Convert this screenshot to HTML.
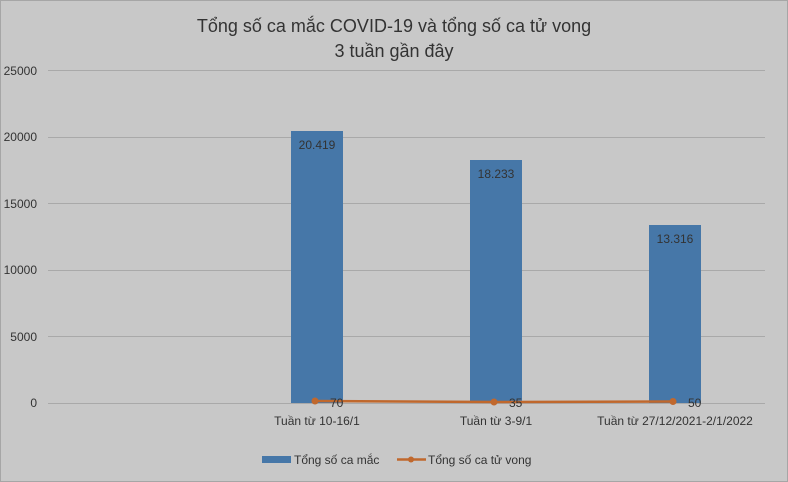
<!DOCTYPE html>
<html><head><meta charset="utf-8"><style>
body{margin:0;background:#c8c8c8}
svg{display:block;font-family:"Liberation Sans","DejaVu Sans",sans-serif}
</style></head><body>
<svg width="788" height="482" viewBox="0 0 788 482">
<rect x="0.5" y="0.5" width="787" height="481" fill="#c8c8c8" stroke="#a6a6a6"/>
<text x="394" y="32" font-size="18" text-anchor="middle" fill="#333">Tổng số ca mắc COVID-19 và tổng số ca tử vong</text>
<text x="394" y="57" font-size="18" text-anchor="middle" fill="#333">3 tuần gần đây</text>
<g stroke="#a9a9a9" stroke-width="1">
<line x1="48" x2="765" y1="70.5" y2="70.5"/><line x1="48" x2="765" y1="137.5" y2="137.5"/>
<line x1="48" x2="765" y1="203.5" y2="203.5"/><line x1="48" x2="765" y1="270.5" y2="270.5"/>
<line x1="48" x2="765" y1="336.5" y2="336.5"/><line x1="48" x2="765" y1="403.5" y2="403.5"/>
</g>
<g font-size="12" fill="#333" text-anchor="end">
<text x="37" y="75">25000</text><text x="37" y="141">20000</text><text x="37" y="208">15000</text>
<text x="37" y="274">10000</text><text x="37" y="341">5000</text><text x="37" y="407">0</text>
</g>
<g fill="#4677a8">
<rect x="291" y="131" width="52" height="272"/>
<rect x="470" y="160" width="52" height="243"/>
<rect x="649" y="225" width="52" height="178"/>
</g>
<g font-size="12" fill="#333" text-anchor="middle">
<text x="317" y="149">20.419</text><text x="496" y="178">18.233</text><text x="675" y="243">13.316</text>
</g>
<polyline points="315,401 494,402 673,401.5" fill="none" stroke="#c0682d" stroke-width="2.5"/>
<g fill="#c0682d"><circle cx="315" cy="401" r="3.5"/><circle cx="494" cy="402" r="3.5"/><circle cx="673" cy="401.5" r="3.5"/></g>
<g font-size="12" fill="#333">
<text x="330" y="407">70</text><text x="509" y="407">35</text><text x="688" y="407">50</text>
</g>
<g font-size="12" fill="#333" text-anchor="middle">
<text x="317" y="425">Tuần từ 10-16/1</text><text x="496" y="425">Tuần từ 3-9/1</text><text x="675" y="425">Tuần từ 27/12/2021-2/1/2022</text>
</g>
<rect x="262" y="456" width="29" height="7" fill="#4677a8"/>
<text x="294" y="464" font-size="12" fill="#333">Tổng số ca mắc</text>
<line x1="397" x2="426" y1="459.5" y2="459.5" stroke="#c0682d" stroke-width="2.5"/>
<circle cx="411" cy="459.5" r="3" fill="#c0682d"/>
<text x="428" y="464" font-size="12" fill="#333">Tổng số ca tử vong</text>
</svg>
</body></html>
